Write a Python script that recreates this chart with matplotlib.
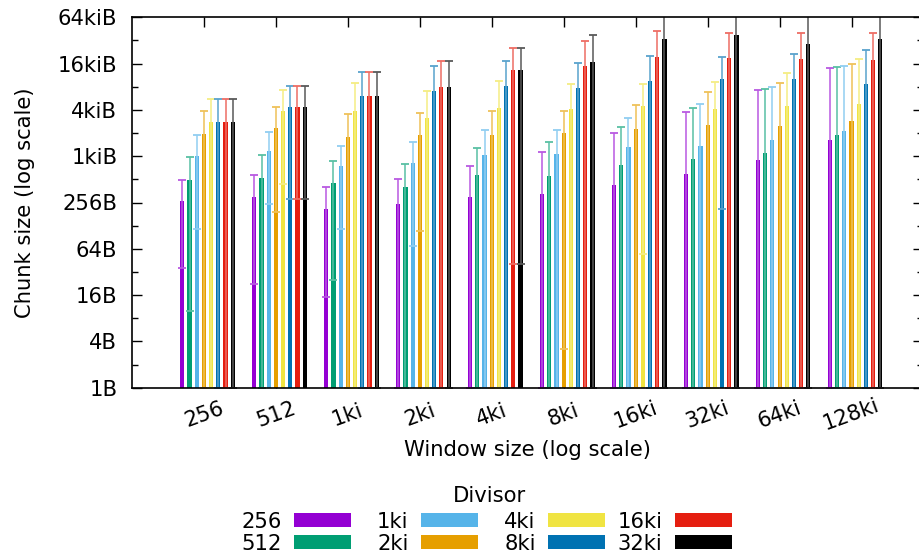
import numpy as np
import matplotlib
matplotlib.use("Agg")
import matplotlib.pyplot as plt
from matplotlib.colors import to_rgb
from matplotlib.ticker import FixedLocator, FixedFormatter, NullFormatter

# window sizes on the x axis, divisors as the bar series
windows = ["256", "512", "1ki", "2ki", "4ki", "8ki", "16ki", "32ki", "64ki", "128ki"]
divisors = ["256", "512", "1ki", "2ki", "4ki", "8ki", "16ki", "32ki"]
colors = ["#9400d3", "#009e73", "#56b4e9", "#e69f00",
          "#f0e442", "#0072b2", "#e51e10", "#000000"]

# chunk sizes in bytes: mean, lower and upper error bound, per divisor
mean_256 = [268, 305, 211, 247, 302, 330, 432, 601, 914, 1639]
low_256 = [36, 22, 15, 1, 1, 1, 1, 1, 1, 1]
high_256 = [498, 589, 407, 517, 771, 1151, 2051, 3846, 7434, 14500]

mean_512 = [507, 528, 463, 407, 589, 571, 787, 942, 1117, 1903]
low_512 = [10, 1, 25, 1, 1, 1, 1, 1, 1, 1]
high_512 = [1009, 1052, 895, 818, 1297, 1567, 2455, 4376, 7590, 14800]

mean_1ki = [1040, 1197, 771, 835, 1071, 1094, 1349, 1403, 1664, 2198]
low_1ki = [117, 243, 117, 70, 1, 1, 1, 1, 1, 1]
high_1ki = [1950, 2132, 1403, 1567, 2245, 2245, 3214, 4844, 8208, 15250]

mean_2ki = [1991, 2361, 1819, 1932, 1932, 2051, 2313, 2607, 2507, 2939]
low_2ki = [1, 191, 1, 110, 1, 3.2, 1, 1, 1, 1]
high_2ki = [4000, 4427, 3656, 3767, 4000, 4000, 4744, 7000, 9250, 16040]

mean_4ki = [2826, 3963, 3963, 3214, 4336, 4246, 4604, 4208, 4604, 4889]
low_4ki = [1, 441, 1, 1, 1, 1, 55, 1, 1, 1]
high_4ki = [5730, 7500, 9084, 7213, 9732, 8897, 8976, 9360, 12260, 18640]

mean_8ki = [2826, 4427, 6208, 7213, 8378, 7820, 9732, 10330, 10330, 8897]
low_8ki = [1, 287, 1, 1, 1, 1, 1, 211, 1, 1]
high_8ki = [5730, 8454, 12627, 15385, 17710, 16840, 20750, 20150, 21850, 24630]

mean_16ki = [2826, 4427, 6208, 8130, 13530, 15250, 19970, 19380, 18980, 18250]
low_16ki = [1, 287, 1, 1, 41, 1, 1, 1, 1, 1]
high_16ki = [5730, 8454, 12627, 17870, 26380, 32520, 43880, 41340, 41340, 41340]

mean_32ki = [2826, 4427, 6208, 8130, 13530, 17190, 34230, 38600, 29740, 34230]
low_32ki = [1, 287, 1, 1, 41, 1, 1, 1, 1, 1]
high_32ki = [5730, 8454, 12627, 17870, 26380, 38920, 80000, 80000, 80000, 80000]

means = [mean_256, mean_512, mean_1ki, mean_2ki, mean_4ki, mean_8ki, mean_16ki, mean_32ki]
lows = [low_256, low_512, low_1ki, low_2ki, low_4ki, low_8ki, low_16ki, low_32ki]
highs = [high_256, high_512, high_1ki, high_2ki, high_4ki, high_8ki, high_16ki, high_32ki]

# y axis ticks (powers of two) and their labels
ytick_values = [1, 4, 16, 64, 256, 1024, 4096, 16384, 65536]
ytick_labels = ["1B", "4B", "16B", "64B", "256B", "1kiB", "4kiB", "16kiB", "64kiB"]
yminor_values = [2, 8, 32, 128, 512, 2048, 8192, 32768]

plt.rcParams["font.family"] = ["DejaVu Sans"]
FS = 15.2

W, H = 920, 557
fig = plt.figure(figsize=(W / 100, H / 100), dpi=100)
left_px, right_px, top_px, bottom_px = 132, 923.5, 17.3, 387.7
ax = fig.add_axes([left_px / W, 1 - bottom_px / H,
                   (right_px - left_px) / W, (bottom_px - top_px) / H])


def lighten(c, f=0.35):
    r, g, b = to_rgb(c)
    return (r + (1 - r) * f, g + (1 - g) * f, b + (1 - b) * f)


x = np.arange(len(windows))
step = 0.1
bar_w = 0.058
for j, (name, col) in enumerate(zip(divisors, colors)):
    xs = x + (j - 3) * step
    m = np.array(means[j], dtype=float)
    lo = np.array(lows[j], dtype=float)
    hi = np.array(highs[j], dtype=float)
    ax.bar(xs, m, width=bar_w, bottom=1, color=col, zorder=2, label=name,
           linewidth=0)
    ax.errorbar(xs, m, yerr=[m - lo, hi - m], fmt="none", ecolor=lighten(col),
                elinewidth=1.1, capsize=2.6, capthick=1.3, zorder=3)

ax.set_yscale("log", base=2)
ax.set_ylim(1, 65536)
ax.set_xlim(-1, 10)

ax.yaxis.set_major_locator(FixedLocator(ytick_values))
ax.yaxis.set_major_formatter(FixedFormatter(ytick_labels))
ax.yaxis.set_minor_locator(FixedLocator(yminor_values))
ax.yaxis.set_minor_formatter(NullFormatter())
ax.tick_params(axis="y", which="major", direction="in", length=7.2, width=1,
               left=True, right=True, labelsize=FS, pad=10.5)
ax.tick_params(axis="y", which="minor", direction="in", length=4, width=1,
               left=True, right=True)

ax.set_xticks(x)
ax.set_xticklabels(windows, rotation=20, ha="center", va="center",
                   rotation_mode="anchor")
ax.tick_params(axis="x", which="major", direction="in", length=7.2, width=1,
               top=True, bottom=True, labelsize=FS, pad=19.5)
ax.tick_params(axis="x", which="minor", bottom=False, top=False)

for s in ax.spines.values():
    s.set_linewidth(1.2)
    s.set_zorder(5)

ax.set_ylabel("Chunk size (log scale)", fontsize=FS, va="center")
ax.yaxis.set_label_coords((25 - left_px) / (right_px - left_px), 0.5)
ax.set_xlabel("Window size (log scale)", fontsize=FS, va="center")
ax.xaxis.set_label_coords(0.5, -(450 - bottom_px) / (bottom_px - top_px))

# legend: title plus four right-aligned columns of two entries
fig.text(490 / W, 1 - 501.7 / H, "Divisor", ha="center", va="baseline",
         fontsize=FS)
handles, labels = ax.get_legend_handles_labels()
col_right = [350.7, 477.7, 604.7, 731.7]
for k in range(4):
    leg = fig.legend(handles[2 * k:2 * k + 2], labels[2 * k:2 * k + 2],
                     loc="upper right",
                     bbox_to_anchor=(col_right[k] / W, 1 - 511.5 / H),
                     markerfirst=False, frameon=False, borderpad=0,
                     borderaxespad=0, labelspacing=0.1, handlelength=2.7,
                     handleheight=0.66, handletextpad=0.57, fontsize=FS)

fig.savefig("out.png", dpi=100)
